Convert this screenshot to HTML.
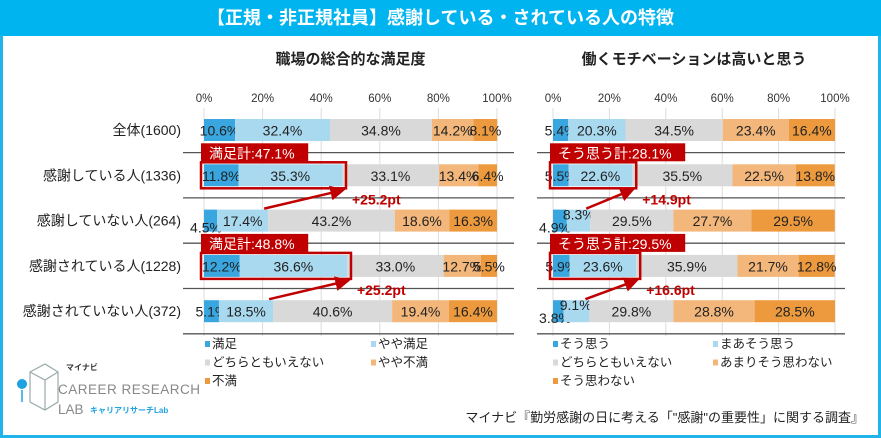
<!DOCTYPE html>
<html><head><meta charset="utf-8">
<style>
body{margin:0;width:881px;height:438px;overflow:hidden;background:#fff;font-family:"Liberation Sans","Noto Sans CJK JP",sans-serif;}
#wrap{position:absolute;left:0;top:0;width:875px;height:432px;border:3px solid #1fb4ea;}
#title{position:absolute;left:0;top:0;width:881px;height:36px;background:#00b4ef;color:#fff;font-size:18px;font-weight:bold;text-align:center;line-height:36px;}
</style></head><body>
<div id="wrap"></div>
<div id="title">【正規・非正規社員】感謝している・されている人の特徴</div>
<svg id="svg" width="881" height="438" style="position:absolute;left:0;top:0"></svg>
<script>
const categories=["全体(1600)","感謝している人(1336)","感謝していない人(264)","感謝されている人(1228)","感謝されていない人(372)"];
const leftValues=[[10.6,32.4,34.8,14.2,8.1],[11.8,35.3,33.1,13.4,6.4],[4.5,17.4,43.2,18.6,16.3],[12.2,36.6,33.0,12.7,5.5],[5.1,18.5,40.6,19.4,16.4]];
const rightValues=[[5.4,20.3,34.5,23.4,16.4],[5.5,22.6,35.5,22.5,13.8],[4.9,8.3,29.5,27.7,29.5],[5.9,23.6,35.9,21.7,12.8],[3.8,9.1,29.8,28.8,28.5]];
const ticks=[0,20,40,60,80,100];
const leftLegend=["満足","やや満足","どちらともいえない","やや不満","不満"];
const rightLegend=["そう思う","まあそう思う","どちらともいえない","あまりそう思わない","そう思わない"];
const leftTotals=["満足計:47.1%","満足計:48.8%"];
const rightTotals=["そう思う計:28.1%","そう思う計:29.5%"];
const leftDiffs=["+25.2pt","+25.2pt"];
const rightDiffs=["+14.9pt","+16.6pt"];
const colors=["#3aa6df","#a9d9ef","#d9d9d9","#f3b77b","#ec9a3d"];
const svg=document.getElementById('svg');
const NS="http://www.w3.org/2000/svg";
function mk(t,a,txt){const e=document.createElementNS(NS,t);for(const k in a)e.setAttribute(k,a[k]);if(txt!=null)e.textContent=txt;svg.appendChild(e);return e;}
const rowY=i=>130+i*45.3;
const BH=22;
categories.forEach((c,i)=>{const t=mk('text',{x:181,y:rowY(i)+5,'text-anchor':'end','font-size':14,fill:'#222'},c);

});
function tw(s){let w=0;for(const ch of s)w+=ch.charCodeAt(0)>255?14:8.2;return w;}
function chart(x0,x1,values,title,legend,totals,diffs,sepL,sepR,legX,col2){
 const sx=v=>x0+(x1-x0)*v/100;
 const t=mk('text',{x:(x0+x1)/2,y:64,'text-anchor':'middle','font-size':15,'font-weight':'bold',fill:'#222'},title);
 
 
 ticks.forEach(v=>{const g=mk('line',{x1:sx(v),x2:sx(v),y1:108,y2:336,stroke:'#dcdcdc','stroke-width':1});
 
 
 const l=mk('text',{x:sx(v),y:102,'text-anchor':'middle','font-size':11.5,fill:'#333'},v+'%');
 
 });
 for(let i=0;i<5;i++){const y=rowY(i)+22.6;const s=mk('line',{x1:sepL,x2:sepR,y1:y,y2:y,stroke:'#555','stroke-width':1.3});
 
 }
 values.forEach((row,i)=>{let acc=0;row.forEach((v,j)=>{const a=sx(acc),b=sx(acc+v);
  const r=mk('rect',{x:a,y:rowY(i)-BH/2,width:b-a,height:BH,fill:colors[j]});
  
  
  let lx=(a+b)/2,ly=rowY(i)+5.5;
  if(v<5&&j==0){ly=rowY(i)+12;lx=a+2;}
  if(j==1&&v<10){ly=rowY(i)-1;lx=a+12;}
  const t=mk('text',{x:lx,y:ly,'text-anchor':'middle','font-size':14,fill:'#222'},v.toFixed(1)+'%');
  
  
  acc+=v;});});
 totals.forEach((tt,k)=>{const i=k==0?1:3;const row=values[i];const end=sx(row[0]+row[1]);
  const by=rowY(i)-BH/2-2;
  const bx=mk('rect',{x:x0-3,y:by,width:end-x0+7,height:BH+4,fill:'none',stroke:'#c00000','stroke-width':2.5});
  
  
  const w=tw(tt)+16;
  const lb=mk('rect',{x:x0-3,y:by-19,width:w,height:18,fill:'#c00000'});
  
  
  const lt=mk('text',{x:x0+5,y:by-4,'font-size':14,fill:'#fff'},tt);
  
  
  const nr=values[i+1];const sx2=sx(nr[0]+nr[1]);
  const ar=mk('line',{x1:sx2-4,y1:rowY(i+1)-12,x2:end-4,y2:rowY(i)+BH/2+5,stroke:'#c00000','stroke-width':2.5,'marker-end':'url(#ah)'});
  
  
  const dt=mk('text',{x:end+10,y:rowY(i)+BH/2+18,'font-size':14,fill:'#c00000','font-weight':'bold'},diffs[k]);
  
  });
 legend.forEach((l,j)=>{const x=legX+(j%2)*col2,y=348+Math.floor(j/2)*18.5;
  const sq=mk('rect',{x:x,y:y-7,width:5,height:6,fill:colors[j]});
  
  
  const t=mk('text',{x:x+7,y:y,'font-size':12.5,fill:'#222'},l);
  
  });
}
const defs=mk('defs',{});defs.innerHTML='<marker id="ah" markerWidth="6" markerHeight="6" refX="3" refY="3" orient="auto"><path d="M0,0L6,3L0,6z" fill="#c00000"/></marker>';
chart(204,497,leftValues,"職場の総合的な満足度",leftLegend,leftTotals,leftDiffs,183,514,205,166);
chart(553,835,rightValues,"働くモチベーションは高いと思う",rightLegend,rightTotals,rightDiffs,537,845,553,160);
const src=mk('text',{x:864,y:422,'text-anchor':'end','font-size':13,fill:'#222'},'マイナビ『勤労感謝の日に考える「"感謝"の重要性」に関する調査』');


const lg=mk('g',{});


lg.innerHTML='<path d="M30,372 L45,364 L58,372 L58,402 L45,410 L30,402 Z M30,372 L45,380 L58,372 M45,380 L45,410" fill="none" stroke="#9aa" stroke-width="1.2"/><circle cx="22" cy="384" r="5" fill="#1fa3e0"/><line x1="22" y1="390" x2="22" y2="402" stroke="#1fa3e0" stroke-width="1.5"/><text x="58" y="394" font-size="13.5" fill="#888" textLength="142">CAREER RESEARCH</text><text x="58" y="414" font-size="13.5" fill="#888">LAB</text><text x="66" y="370" font-size="8" font-weight="bold" fill="#333">マイナビ</text><text x="90" y="413" font-size="8" font-weight="bold" fill="#1fa3e0">キャリアリサーチLab</text>';
svg.appendChild(lg);
</script>
</body></html>
